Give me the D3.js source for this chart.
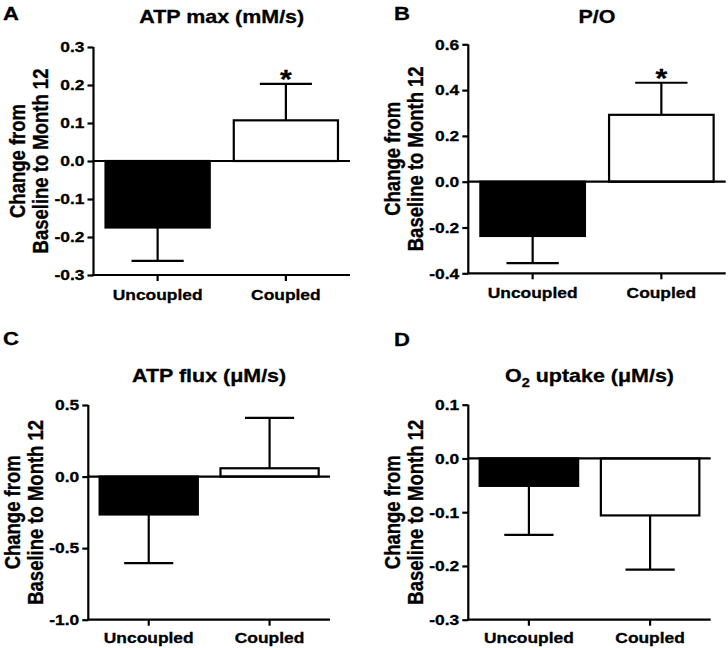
<!DOCTYPE html>
<html>
<head>
<meta charset="utf-8">
<script src="https://cdn.jsdelivr.net/npm/d3@7/dist/d3.min.js"></script>
<style>
  html, body { margin: 0; padding: 0; background: #fff; }
  svg { display: block; }
  text { font-family: "Liberation Sans", Arial, Helvetica, sans-serif; font-weight: bold; fill: #000; stroke: #000; stroke-width: 0.3px; }
</style>
</head>
<body>
<svg id="chart" width="728" height="648"></svg>
<script>
// ---------- data ----------
const categories = ["Uncoupled", "Coupled"];

const atpMaxMean = [-0.175, 0.107];
const atpMaxErr  = [0.088, 0.096];
const atpMaxTicks = [-0.3, -0.2, -0.1, 0.0, 0.1, 0.2, 0.3];
const atpMaxTickLabels = ["-0.3", "-0.2", "-0.1", "0.0", "0.1", "0.2", "0.3"];
const atpMaxSig = [false, true];

const poMean = [-0.237, 0.292];
const poErr  = [0.119, 0.140];
const poTicks = [-0.4, -0.2, 0.0, 0.2, 0.4, 0.6];
const poTickLabels = ["-0.4", "-0.2", "0.0", "0.2", "0.4", "0.6"];
const poSig = [false, true];

const atpFluxMean = [-0.265, 0.058];
const atpFluxErr  = [0.340, 0.352];
const atpFluxTicks = [-1.0, -0.5, 0.0, 0.5];
const atpFluxTickLabels = ["-1.0", "-0.5", "0.0", "0.5"];
const atpFluxSig = [false, false];

const o2Mean = [-0.051, -0.106];
const o2Err  = [0.091, 0.101];
const o2Ticks = [-0.3, -0.2, -0.1, 0.0, 0.1];
const o2TickLabels = ["-0.3", "-0.2", "-0.1", "0.0", "0.1"];
const o2Sig = [false, false];

const barFills = ["#000", "#fff"];
const yLabelLines = ["Change from", "Baseline to Month 12"];

// ---------- layout ----------
const SX = 1.16; // horizontal stretch of the original figure
const SW = 2.2;  // line width
const panels = [
  { letter: "A", title: [{t: "ATP max (mM/s)"}], mean: atpMaxMean, err: atpMaxErr, ticks: atpMaxTicks, labels: atpMaxTickLabels, sig: atpMaxSig,
    x0: 93.5, x1: 350, yTop: 47, yBot: 275, letterX: 3, letterY: 19.5, titleY: 23, catY: 300 },
  { letter: "B", title: [{t: "P/O"}], mean: poMean, err: poErr, ticks: poTicks, labels: poTickLabels, sig: poSig,
    x0: 468.3, x1: 725.7, yTop: 44.3, yBot: 273.3, letterX: 394, letterY: 20, titleY: 23, catY: 298 },
  { letter: "C", title: [{t: "ATP flux (\u03BCM/s)"}], mean: atpFluxMean, err: atpFluxErr, ticks: atpFluxTicks, labels: atpFluxTickLabels, sig: atpFluxSig,
    x0: 88.3, x1: 330, yTop: 405, yBot: 619.7, letterX: 3, letterY: 345, titleY: 381.5, catY: 643 },
  { letter: "D", title: [{t: "O"}, {t: "2", sub: true}, {t: " uptake (\u03BCM/s)"}], mean: o2Mean, err: o2Err, ticks: o2Ticks, labels: o2TickLabels, sig: o2Sig,
    x0: 468.3, x1: 710.7, yTop: 404.7, yBot: 619.7, letterX: 394, letterY: 345.5, titleY: 381.5, catY: 643 }
];

const svg = d3.select("#chart");

function stretchedText(parent, x, y, anchor, size) {
  return parent.append("text")
    .attr("transform", `translate(${x},${y}) scale(${SX},1)`)
    .attr("text-anchor", anchor)
    .style("font-size", size + "px");
}

panels.forEach(p => {
  const g = svg.append("g");
  const y = d3.scaleLinear()
    .domain([d3.min(p.ticks), d3.max(p.ticks)])
    .range([p.yBot, p.yTop]);
  const x = d3.scaleBand()
    .domain(categories)
    .range([p.x0, p.x1])
    .paddingInner(0.1875)
    .paddingOuter(0.09375);

  // panel letter
  stretchedText(g, p.letterX, p.letterY, "start", 19).text(p.letter);

  // title
  const tt = stretchedText(g, (p.x0 + p.x1) / 2, p.titleY, "middle", 18.5);
  p.title.forEach(seg => {
    const ts = tt.append("tspan").text(seg.t);
    if (seg.sub) ts.attr("dy", 5).style("font-size", "12.5px");
    else if (seg !== p.title[0]) ts.attr("dy", -5);
  });

  // y axis
  const yAxis = d3.axisLeft(y)
    .tickValues(p.ticks)
    .tickFormat((d, i) => p.labels[i])
    .tickSize(6)
    .tickPadding(3);
  const ya = g.append("g").attr("transform", `translate(${p.x0},0)`).call(yAxis);
  ya.attr("font-family", null).attr("font-size", null);
  ya.select(".domain").attr("stroke", "#000").attr("stroke-width", SW).attr("d", `M0,${p.yBot}V${p.yTop}`);
  ya.selectAll(".tick line").attr("stroke", "#000").attr("stroke-width", SW);
  ya.selectAll(".tick text").each(function() {
    const t = d3.select(this);
    const xx = +t.attr("x");
    t.attr("x", null).attr("transform", `translate(${xx},0) scale(${SX},1)`);
  }).style("font-size", "15px").attr("fill", "#000");

  // bars
  g.selectAll("rect.bar").data(p.mean).enter().append("rect")
    .attr("class", "bar")
    .attr("x", (d, i) => x(categories[i]))
    .attr("width", x.bandwidth())
    .attr("y", d => y(Math.max(0, d)))
    .attr("height", d => Math.abs(y(d) - y(0)))
    .attr("fill", (d, i) => barFills[i])
    .attr("stroke", "#000")
    .attr("stroke-width", SW);

  // error bars
  const capW = x.bandwidth() * 0.5;
  p.mean.forEach((m, i) => {
    const cx = x(categories[i]) + x.bandwidth() / 2;
    const end = m >= 0 ? m + p.err[i] : m - p.err[i];
    g.append("line").attr("x1", cx).attr("x2", cx).attr("y1", y(m)).attr("y2", y(end))
      .attr("stroke", "#000").attr("stroke-width", SW);
    g.append("line").attr("x1", cx - capW / 2).attr("x2", cx + capW / 2).attr("y1", y(end)).attr("y2", y(end))
      .attr("stroke", "#000").attr("stroke-width", SW);
    if (p.sig[i]) {
      stretchedText(g, cx, y(end) + 4, "middle", 26).text("*");
    }
  });

  // zero line
  g.append("line").attr("x1", p.x0).attr("x2", p.x1).attr("y1", y(0)).attr("y2", y(0))
    .attr("stroke", "#000").attr("stroke-width", SW);

  // x axis
  const xAxis = d3.axisBottom(x).tickSize(6).tickSizeOuter(0).tickPadding(4);
  const xa = g.append("g").attr("transform", `translate(0,${p.yBot})`).call(xAxis);
  xa.attr("font-family", null).attr("font-size", null);
  xa.select(".domain").attr("stroke", "#000").attr("stroke-width", SW).attr("d", `M${p.x0 - 1.1},0H${p.x1}`);
  xa.selectAll(".tick line").attr("stroke", "#000").attr("stroke-width", SW);
  xa.selectAll(".tick text").each(function() {
    const t = d3.select(this);
    t.attr("y", null).attr("dy", null)
      .attr("transform", `translate(0,${p.catY - p.yBot}) scale(${SX},1)`);
  }).style("font-size", "15px").attr("fill", "#000");

  // y label (two rotated lines)
  const cy = (p.yTop + p.yBot) / 2;
  const baseXs = [p.x0 - 68.8, p.x0 - 45.3];
  yLabelLines.forEach((line, li) => {
    g.append("g").attr("transform", `translate(${baseXs[li]},${cy}) scale(${SX},1)`)
      .append("text")
      .attr("transform", "rotate(-90)")
      .attr("text-anchor", "middle")
      .style("font-size", "18.5px")
      .text(line);
  });
});
</script>
</body>
</html>
